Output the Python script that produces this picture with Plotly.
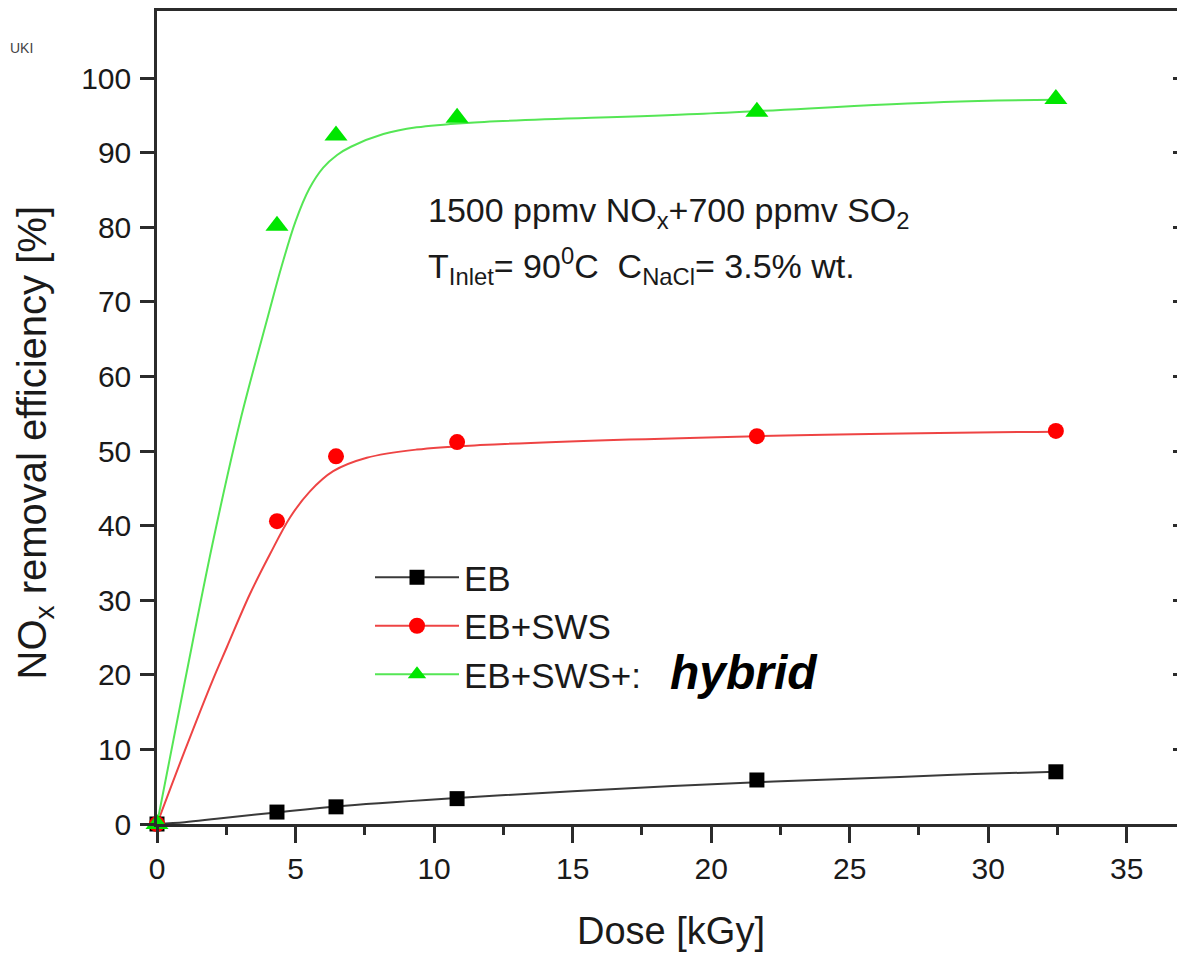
import plotly.graph_objects as go

# ---- data ----
dose = [0, 4.33, 6.46, 10.83, 21.65, 32.44]
eb = [0, 1.6, 2.3, 3.4, 5.9, 7.0]
eb_sws = [0, 40.6, 49.3, 51.2, 52.0, 52.7]
eb_sws_hybrid = [0, 80.2, 92.3, 94.7, 95.5, 97.2]

# fitted curves
fit_eb_x = [0, 1.0, 2.15, 4.32, 6.49, 10.82, 15.0, 21.65, 26.8, 29.5, 32.44]
fit_eb_y = [0, 0.25, 0.7, 1.55, 2.35, 3.47, 4.4, 5.6, 6.3, 6.7, 7.0]
fit_sws_x = [0, 1.0, 2.0, 2.52, 3.35, 4.08, 4.80, 5.52, 6.36, 7.57, 9.37, 11.66, 21.65, 32.44]
fit_sws_y = [0, 9.8, 19.2, 23.7, 30.8, 36.2, 41.1, 44.6, 47.3, 49.1, 50.2, 50.8, 52.0, 52.6]
fit_hyb_x = [0, 1.0, 2.0, 3.0, 4.0, 4.5, 5.0, 5.5, 6.0, 6.5, 7.0, 8.17, 9.37, 11.17, 19.5, 28.4, 32.44]
fit_hyb_y = [0, 19.0, 37.5, 54.0, 68.0, 74.8, 80.8, 85.2, 88.0, 89.7, 90.8, 92.5, 93.4, 94.0, 95.2, 96.8, 97.1]

names = ["EB", "EB+SWS", "EB+SWS+:"]
x_ticks = [0, 5, 10, 15, 20, 25, 30, 35]
y_ticks = [0, 10, 20, 30, 40, 50, 60, 70, 80, 90, 100]

FONT = "Liberation Sans, Arial, sans-serif"
AX = "#2b2b2b"
TXT = "#1a1a1a"

line_cols = ["#3a3a3a", "#ee4444", "#55e655"]
mark_cols = ["#000000", "#ff0000", "#00e600"]
symbols = ["square", "circle", "triangle-up"]
msizes = [15, 16, 20]

# plot area in page pixels: left 157, top 8, right 1185, bottom 824 (page has 8px body margin)
PL, PT, PW, PH = 157, 8, 1028, 816


def px(x):
    return (x - PL) / PW


def py(y):
    return (PT + PH - y) / PH


fig = go.Figure()
fits = [(fit_eb_x, fit_eb_y), (fit_sws_x, fit_sws_y), (fit_hyb_x, fit_hyb_y)]
series = [eb, eb_sws, eb_sws_hybrid]

for i in range(3):
    fx, fy = fits[i]
    fig.add_trace(go.Scatter(x=fx, y=fy, mode="lines",
                             line=dict(color=line_cols[i], width=2, shape="spline", smoothing=1.0),
                             showlegend=False, hoverinfo="skip", cliponaxis=False))
for i in range(3):
    fig.add_trace(go.Scatter(x=dose, y=series[i], mode="markers",
                             marker=dict(symbol=symbols[i], size=msizes[i], color=mark_cols[i]),
                             showlegend=False, cliponaxis=False))
# legend entries
for i in range(3):
    fig.add_trace(go.Scatter(x=[None], y=[None], mode="lines+markers", name=names[i],
                             line=dict(color=line_cols[i], width=2),
                             marker=dict(symbol=symbols[i], size=msizes[i], color=mark_cols[i])))

# right-hand inward ticks
fig.add_trace(go.Scatter(x=[None], y=[None], yaxis="y2", showlegend=False))

fig.update_layout(
    width=1177, height=945,
    margin=dict(l=149, r=0, t=0, b=129),
    paper_bgcolor="white", plot_bgcolor="white",
    font=dict(family=FONT, color=TXT),
    xaxis=dict(range=[0, 37.1], tickvals=x_ticks, ticks="outside", ticklen=16, tickwidth=2.5,
               tickcolor=AX, showline=True, linecolor=AX, linewidth=2.5, mirror=True,
               showgrid=False, zeroline=False, tickfont=dict(size=30, family=FONT),
               minor=dict(dtick=2.5, ticks="outside", ticklen=8, tickwidth=2.5, tickcolor=AX, showgrid=False),
               title=dict(text="Dose [kGy]", font=dict(size=38, family=FONT), standoff=34)),
    yaxis=dict(range=[0, 109], tickvals=y_ticks, ticks="outside", ticklen=14, tickwidth=2.5,
               tickcolor=AX, showline=True, linecolor=AX, linewidth=2.5, mirror=False,
               showgrid=False, zeroline=False, tickfont=dict(size=30, family=FONT),
               ticklabelstandoff=3),
    yaxis2=dict(range=[0, 109], tickvals=y_ticks, overlaying="y", side="right", ticks="inside",
                ticklen=12, tickwidth=2.5, tickcolor=AX, showticklabels=False, showline=False,
                showgrid=False, zeroline=False),
    legend=dict(x=px(370), y=py(547), xanchor="left", yanchor="top", bgcolor="rgba(0,0,0,0)",
                font=dict(size=35, family=FONT), itemwidth=84, tracegroupgap=0),
    annotations=[
        dict(text="NO<sub>x</sub> removal efficiency [%]", xref="paper", yref="paper",
             x=px(35), y=py(442), xanchor="center", yanchor="middle", textangle=-90,
             showarrow=False, font=dict(size=40, family=FONT, color=TXT)),
        dict(text="1500 ppmv NO<sub>x</sub>+700 ppmv SO<sub>2</sub>", xref="paper", yref="paper",
             x=px(426), y=py(210), xanchor="left", yanchor="middle",
             showarrow=False, font=dict(size=34, family=FONT, color=TXT)),
        dict(text="T<sub>Inlet</sub>= 90<sup>0</sup>C  C<sub>NaCl</sub>= 3.5% wt.", xref="paper", yref="paper",
             x=px(426), y=py(264), xanchor="left", yanchor="middle",
             showarrow=False, font=dict(size=34, family=FONT, color=TXT)),
        dict(text="<b><i>hybrid</i></b>", xref="paper", yref="paper",
             x=px(668), y=py(672), xanchor="left", yanchor="middle",
             showarrow=False, font=dict(size=48, family=FONT, color="#000000")),
        dict(text="UKI", xref="paper", yref="paper", x=px(8), y=py(45),
             xanchor="left", yanchor="middle", showarrow=False,
             font=dict(size=14, family=FONT, color="#444444")),
    ],
)

fig.write_html("out.html")
